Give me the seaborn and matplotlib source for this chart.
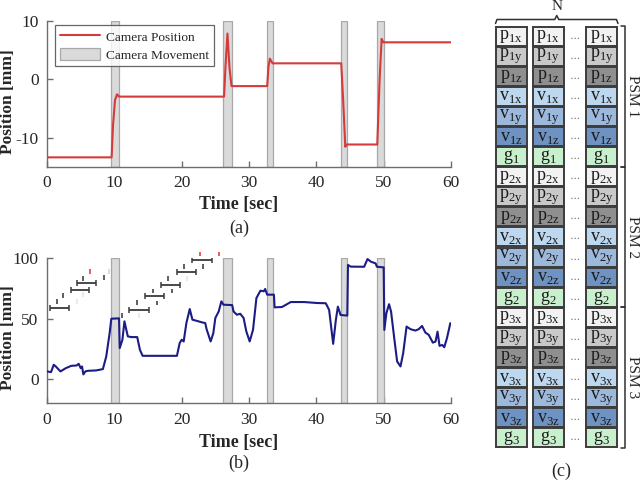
import numpy as np
import pandas as pd
import matplotlib
matplotlib.use("Agg")
import matplotlib.pyplot as plt
from matplotlib.patches import Rectangle, Patch
from matplotlib.lines import Line2D
import seaborn as sns

sns.set_style("ticks")
plt.rcParams['font.family'] = ['Liberation Serif', 'DejaVu Serif']
plt.rcParams['mathtext.fontset'] = 'custom'
plt.rcParams['mathtext.rm'] = 'Liberation Serif'
plt.rcParams['axes.unicode_minus'] = False

# ---------------- data ----------------
# camera movement intervals [sec]
move_start = [9.5, 26.2, 32.6, 43.6, 49.0]
move_end = [10.7, 27.5, 33.6, 44.6, 50.0]

# (a) camera position
t_cam = [0, 9.6, 9.8, 10.1, 10.4, 10.7, 26.3, 26.5, 26.8, 27.1, 27.4, 32.7, 32.9, 33.1, 33.5,
         43.7, 44.0, 44.3, 44.5, 49.05, 49.4, 49.7, 49.95, 60]
pos_cam = [-13.4, -13.4, -8.0, -3.6, -2.6, -3.0, -3.0, 2.0, 7.8, 2.0, -1.2, -1.2, 2.2, 3.5, 2.7,
           2.7, -4.0, -11.6, -11.2, -11.2, 0.0, 6.9, 6.3, 6.3]

# (b) tool position
t_b = [0, 0.6, 1.0, 1.3, 2.0, 2.8, 3.6, 4.4, 4.7, 5.0,
       5.2, 5.4, 5.7, 6.1, 7.3, 8.3, 8.8, 9.3, 9.55, 10.7,
       10.8, 11.2, 11.5, 12.0, 12.5, 13.4, 13.8, 14.2, 19.3, 19.7,
       20.0, 20.3, 20.7, 21.2, 21.6, 22.2, 23.0, 23.5, 23.7, 24.3,
       24.7, 25.0, 25.5, 25.9, 26.2, 27.5, 27.7, 28.2, 28.7, 29.2,
       29.6, 30.1, 30.6, 31.1, 31.7, 32.2, 32.4, 32.7, 33.7, 33.8,
       34.9, 36.2, 38.2, 40.1, 41.4, 41.9, 42.5, 42.9, 43.2, 43.6,
       44.6, 44.7, 45.1, 47.1, 47.6, 48.1, 48.8, 49.0, 50.0, 50.1,
       50.4, 50.8, 51.1, 51.6, 52.0, 52.5, 52.9, 53.4, 54.0, 54.7,
       55.2, 55.7, 56.2, 56.7, 57.3, 57.7, 58.0, 58.3, 58.7, 59.0,
       59.4, 59.9]
pos_b = [6.4, 5.8, 11.9, 10.5, 6.4, 9.1, 11, 11.3, 12.7, 9.1,
         10.5, 3.9, 6.4, 6.9, 7.2, 8.3, 18.8, 38, 50, 50.3,
         25.7, 32.6, 47.8, 35.4, 34.8, 34.8, 24.3, 19.3, 19.3, 29.8,
         32.6, 31.2, 46.4, 58, 49.2, 48.3, 47, 46.4, 41.4, 31.2,
         38, 50.6, 56, 64.4, 61.6, 61.3, 56, 53.3, 54.1, 50.6,
         39.5, 31.2, 40.9, 67.1, 73.2, 72.7, 74.6, 69.9, 69.9, 59.4,
         59.7, 63.8, 63.8, 63, 62.8, 57.3, 29.2, 49, 60, 53.1,
         52.6, 94.5, 93.1, 93, 99.4, 97.2, 95.8, 93, 92.5, 40.7,
         54.5, 62, 55.9, 32.5, 14.6, 10.5, 21.5, 43.5, 41.3, 40.2,
         41.3, 44, 38.5, 36.6, 30.2, 31.1, 39.3, 27.5, 28.3, 26.4,
         33.9, 46.3]

# (b) window annotations
win_center = [1.85, 4.9, 5.9, 13.65, 15.95, 18.3, 20.7, 23.0]
win_half = [1.45, 1.4, 1.45, 1.45, 1.45, 1.4, 1.45, 1.45]
win_y = [58.8, 74.0, 79.5, 57.5, 68.5, 78.3, 88.8, 98.5]
mark_x = [1.45, 2.4, 4.4, 5.4, 5.4, 6.4, 8.4, 9.25,
          11.2, 13.4, 13.7, 15.7, 16.3, 18.0, 18.6, 20.4, 20.8, 23.2, 22.7, 25.6]
mark_y = [64, 69.5, 64, 83.5, 70, 89, 84, 89,
          52.5, 63.5, 52.5, 73, 63, 83, 73, 93, 83.5, 93, 103.5, 103.5]
mark_kind = ['k', 'k', 'f', 'k', 'f', 'r', 'k', 'fr',
             'k', 'k', 'f', 'k', 'k', 'k', 'k', 'k', 'f', 'k', 'r', 'r']

# (c) feature matrix
psm_ids = ['1', '2', '3']
feat_base = ['p', 'p', 'p', 'v', 'v', 'v', 'g']
feat_axis = ['x', 'y', 'z', 'x', 'y', 'z', '']
feat_color = ['#f2f2f2', '#c9c9c9', '#8f8f8f', '#bdd7ee', '#9cb9dc', '#6e93c2', '#c8f0cc']

# ---------------- figure ----------------
fig = plt.figure(figsize=(6.4, 4.83), dpi=100)
W, H = 640, 483

def fig_axes(l, t, r, b):
    return fig.add_axes([l / W, 1 - b / H, (r - l) / W, (b - t) / H])

axis_col = '#6e6e6e'
txt_col = '#262626'
band_face = '#dadada'
band_edge = '#a8a8a8'

def style_axis(ax):
    sns.despine(ax=ax)
    for s in ['left', 'bottom']:
        ax.spines[s].set_color(axis_col)
        ax.spines[s].set_linewidth(1.0)
    ax.tick_params(direction='in', length=4, width=1.0, color=axis_col,
                   labelcolor=txt_col, labelsize=12.5, pad=6)
    ax.set_xlim(0, 60)
    ax.set_xticks(range(0, 61, 10))
    ax.set_xlabel('')
    ax.set_ylabel('')

# ----- panel (a)
ax_a = fig_axes(47, 20.7, 451, 166.7)
for s, e in zip(move_start, move_end):
    ax_a.axvspan(s, e, facecolor=band_face, edgecolor=band_edge, lw=0.9, zorder=1)
df_a = pd.DataFrame({'t': t_cam, 'pos': pos_cam})
sns.lineplot(data=df_a, x='t', y='pos', ax=ax_a, color='#d43b3b', lw=1.5,
             estimator=None, sort=False, zorder=3)
ax_a.set_ylim(-15, 10)
ax_a.set_yticks([-10, 0, 10])
style_axis(ax_a)
handles = [Line2D([0], [0], color='#d43b3b', lw=1.5),
           Patch(facecolor=band_face, edgecolor=band_edge, lw=0.9)]
leg = ax_a.legend(handles, ['Camera Position', 'Camera Movement'], loc='upper left',
                  bbox_to_anchor=((55 - 47) / 404, (166.7 - 25) / 146), borderaxespad=0,
                  fontsize=9.6, frameon=True, fancybox=False, handlelength=3.0,
                  handleheight=1.1, borderpad=0.35, labelspacing=0.3, handletextpad=0.5)
leg.get_frame().set_edgecolor('#404040')
leg.get_frame().set_linewidth(0.9)

# ----- panel (b)
ax_b = fig_axes(47, 258.3, 451, 403.3)
for s, e in zip(move_start, move_end):
    ax_b.axvspan(s, e, facecolor=band_face, edgecolor=band_edge, lw=0.9, zorder=1)
df_b = pd.DataFrame({'t': t_b, 'pos': pos_b})
sns.lineplot(data=df_b, x='t', y='pos', ax=ax_b, color='#1c1c85', lw=1.5,
             estimator=None, sort=False, zorder=3)
ax_b.errorbar(win_center, win_y, xerr=win_half, fmt='none', ecolor='#3a3a3a',
              elinewidth=1.3, capsize=2.5, capthick=1.1, zorder=4)
kind_col = {'k': '#333333', 'f': '#e6e6e6', 'r': '#e03030', 'fr': '#f3c6c6'}
for x, y, k in zip(mark_x, mark_y, mark_kind):
    ax_b.vlines(x, y - 2.0, y + 2.0, colors=kind_col[k], lw=1.1, zorder=4, clip_on=False)
ax_b.set_ylim(-20, 100)
ax_b.set_yticks([0, 50, 100])
style_axis(ax_b)

# axis labels / captions
for yl, yt, ycap, cap in [(101.6, 204, 228.5, '(a)'), (337.6, 442.3, 463.3, '(b)')]:
    fig.text(8 / W, 1 - yl / H, 'Position [mm]', rotation=90, ha='center', va='center',
             fontsize=12.5, fontweight='bold', color=txt_col)
    fig.text(239 / W, 1 - yt / H, 'Time [sec]', ha='center', va='center',
             fontsize=13, fontweight='bold', color=txt_col)
    fig.text(239 / W, 1 - ycap / H, cap, ha='center', va='center', fontsize=13, color=txt_col)

# ----- panel (c)
ax_c = fig.add_axes([0, 0, 1, 1], zorder=-1)
ax_c.set_xlim(0, W)
ax_c.set_ylim(H, 0)
ax_c.axis('off')
row_top0, row_h, box_h = 26.7, 20.08, 19.0
col_left = [495.7, 532.7, 586.0]
col_w = 31.0
row = 0
for gi, pid in enumerate(psm_ids):
    for base, axn, fc in zip(feat_base, feat_axis, feat_color):
        y0 = row_top0 + row * row_h
        for cl in col_left:
            ax_c.add_patch(Rectangle((cl, y0), col_w, box_h, facecolor=fc,
                                     edgecolor='#3c3c3c', lw=1.4))
            ax_c.text(cl + col_w / 2, y0 + box_h / 2 + 0.5,
                      r'$\mathrm{%s}_{\mathrm{%s%s}}$' % (base, pid, axn),
                      ha='center', va='center', fontsize=13, color='#1a1a1a')
        ax_c.text(575, y0 + box_h / 2, r'$\cdots$', ha='center', va='center',
                  fontsize=8, color='#707070')
        row += 1
    top = row_top0 + gi * 7 * row_h - 0.5
    bot = row_top0 + (gi * 7 + 6) * row_h + box_h + 0.5
    ax_c.plot([621, 624.5, 624.5, 621], [top, top, bot, bot], color='#303030', lw=1.1,
              solid_joinstyle='round')
    ax_c.text(632.5, (top + bot) / 2, 'PSM %s' % pid, rotation=-90, ha='center',
              va='center', fontsize=11, color=txt_col)

# top brace
xb0, xb1 = 495.5, 618.0
xm = (xb0 + xb1) / 2
ax_c.plot([xb0, xb0 + 1.5, xm - 2, xm, xm + 2, xb1 - 1.5, xb1],
          [23.5, 19.5, 19.5, 15.5, 19.5, 19.5, 23.5], color='#303030', lw=1.1)
ax_c.text(xm, 7, 'N', ha='center', va='center', fontsize=11, color=txt_col)
ax_c.text(561.5, 471.5, '(c)', ha='center', va='center', fontsize=13, color=txt_col)

fig.savefig('out.png', dpi=100)
